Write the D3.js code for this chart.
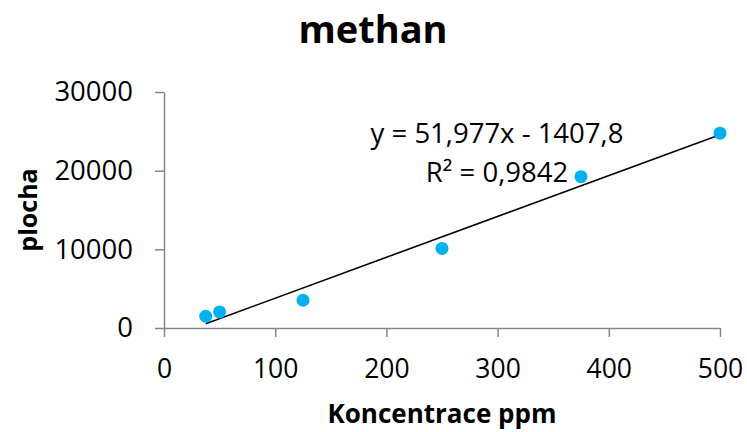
<!DOCTYPE html>
<html>
<head>
<meta charset="utf-8">
<script src="https://cdn.jsdelivr.net/npm/d3@7"></script>
<style>
  body { margin: 0; background: #fff; }
  svg { display: block; font-family: "Open Sans", sans-serif; }
  .axis path, .axis line { stroke: #868686; stroke-width: 1.5; }
  .axis text { fill: #000; }
</style>
</head>
<body>
<svg width="747" height="432"></svg>
<script>
// measured points (ppm, plocha)
var konc = [37.5, 50, 125, 250, 375, 500];
var plocha = [1490, 2040, 3530, 10110, 19240, 24770];
var xTicks = [0, 100, 200, 300, 400, 500];
var yTicks = [0, 10000, 20000, 30000];
// linear trend shown in chart
var slope = 51.977, intercept = -1407.8;
var eqText = ["y = 51,977x - 1407,8", "R\u00b2 = 0,9842"];

var svg = d3.select("svg");

var x = d3.scaleLinear().domain([0, 500]).range([164, 720]);
var y = d3.scaleLinear().domain([0, 30000]).range([328, 92]);

svg.append("g")
    .attr("class", "axis")
    .attr("transform", "translate(0," + y(0) + ")")
    .call(d3.axisBottom(x).tickValues(xTicks).tickSize(9).tickSizeOuter(0).tickPadding(22))
    .attr("font-family", "Open Sans").attr("font-size", 26.5);

svg.append("g")
    .attr("class", "axis")
    .attr("transform", "translate(" + x(0) + ",0)")
    .call(d3.axisLeft(y).tickValues(yTicks).tickSize(9).tickSizeOuter(0).tickPadding(22).tickFormat(d3.format("d")))
    .attr("font-family", "Open Sans").attr("font-size", 27.5);

svg.selectAll(".axis .domain").attr("fill", "none");

// trendline
var xs = [d3.min(konc), d3.max(konc)];
svg.append("line")
    .attr("x1", x(xs[0])).attr("y1", y(slope * xs[0] + intercept))
    .attr("x2", x(xs[1])).attr("y2", y(slope * xs[1] + intercept))
    .attr("stroke", "#000").attr("stroke-width", 1.6);

svg.append("g").selectAll("circle")
    .data(konc)
  .enter().append("circle")
    .attr("cx", function(d) { return x(d); })
    .attr("cy", function(d, i) { return y(plocha[i]); })
    .attr("r", 6.5)
    .attr("fill", "#00b0f0");

svg.append("text")
    .attr("x", 373).attr("y", 43)
    .attr("text-anchor", "middle")
    .attr("font-size", 38).attr("font-weight", "bold")
    .text("methan");

svg.append("text")
    .attr("x", 442).attr("y", 423)
    .attr("text-anchor", "middle")
    .attr("font-size", 26).attr("font-weight", "bold")
    .text("Koncentrace ppm");

svg.append("text")
    .attr("transform", "translate(37,210) rotate(-90)")
    .attr("text-anchor", "middle")
    .attr("font-size", 25).attr("font-weight", "bold")
    .text("plocha");

svg.selectAll(".eq")
    .data(eqText)
  .enter().append("text")
    .attr("class", "eq")
    .attr("x", 497)
    .attr("y", function(d, i) { return 143 + i * 39; })
    .attr("text-anchor", "middle")
    .attr("font-size", 27.5)
    .text(function(d) { return d; });
</script>
</body>
</html>
